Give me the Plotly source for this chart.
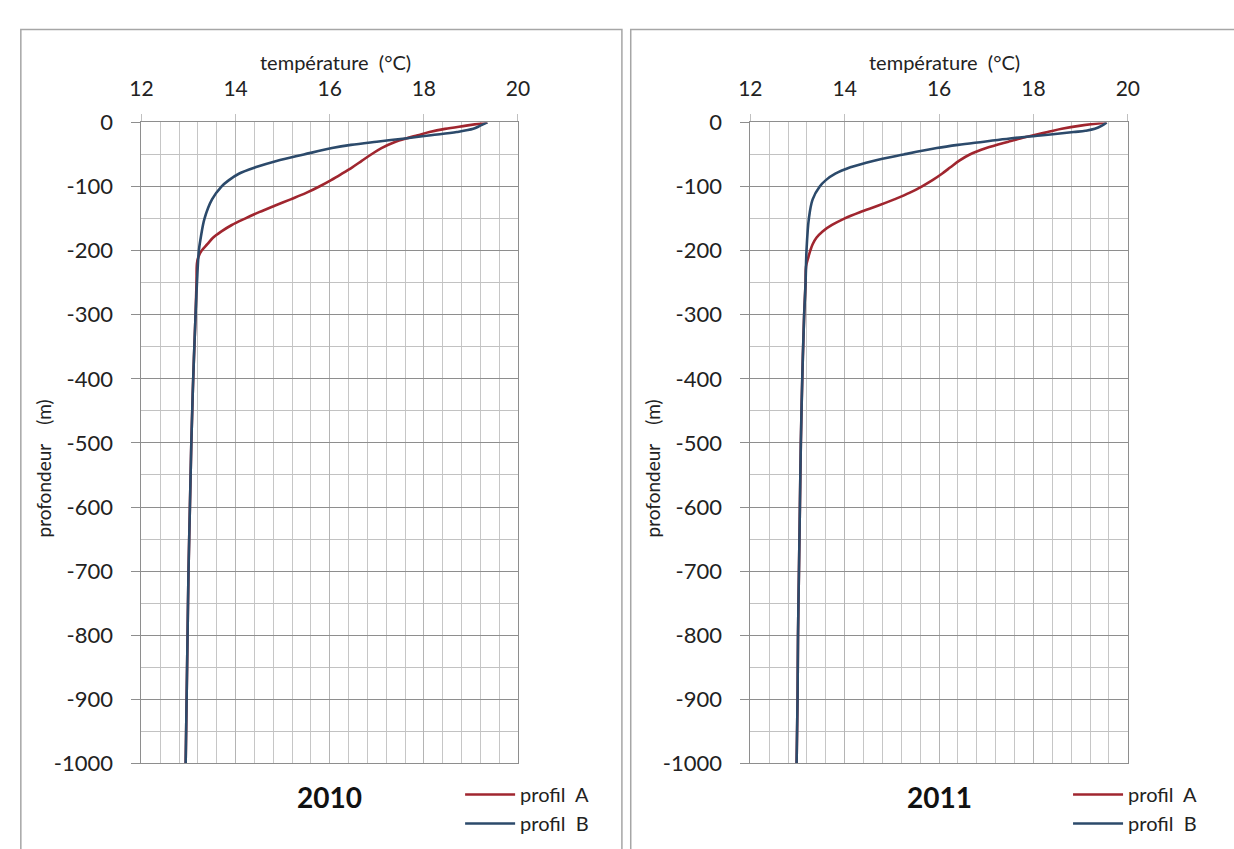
import plotly.graph_objects as go

# ---------------- data ----------------
depth_A_2010 = [0, -5, -10, -15, -20, -25, -30, -40, -50, -60, -70, -80, -90, -100, -110, -120, -130, -140,
                -150, -160, -170, -180, -190, -200, -210, -220, -250, -300, -400, -500, -600, -700, -800, -900, -1000]
temp_A_2010 = [19.35, 18.9, 18.45, 18.12, 17.87, 17.62, 17.4, 17.1, 16.88, 16.68, 16.48, 16.26, 16.03, 15.78, 15.5,
               15.17, 14.83, 14.5, 14.2, 13.92, 13.7, 13.52, 13.4, 13.28, 13.21, 13.18, 13.17, 13.15, 13.1, 13.06,
               13.03, 13.0, 12.98, 12.96, 12.94]

depth_B_2010 = [0, -5, -10, -15, -20, -25, -30, -35, -40, -50, -60, -70, -80, -90, -100, -120, -150, -180, -200,
                -250, -300, -400, -500, -600, -700, -800, -900, -1000]
temp_B_2010 = [19.35, 19.2, 19.05, 18.7, 18.15, 17.6, 17.0, 16.45, 16.05, 15.45, 14.87, 14.42, 14.07, 13.86, 13.7,
               13.5, 13.34, 13.26, 13.22, 13.18, 13.15, 13.1, 13.06, 13.03, 13.0, 12.98, 12.96, 12.94]

depth_A_2011 = [0, -5, -10, -15, -20, -25, -30, -40, -50, -60, -70, -80, -90, -100, -110, -120, -130, -140,
                -150, -160, -170, -180, -190, -200, -210, -225, -250, -300, -400, -500, -600, -700, -800, -900, -1000]
temp_A_2011 = [19.55, 19.0, 18.6, 18.3, 18.0, 17.72, 17.47, 17.0, 16.65, 16.42, 16.24, 16.06, 15.86, 15.63, 15.37,
               15.05, 14.7, 14.32, 13.99, 13.73, 13.53, 13.4, 13.32, 13.27, 13.23, 13.18, 13.17, 13.14, 13.1, 13.07,
               13.05, 13.03, 13.01, 13.0, 12.98]

depth_B_2011 = [0, -5, -10, -13, -15, -20, -25, -30, -35, -40, -50, -60, -70, -80, -90, -100, -120, -150, -200,
                -250, -300, -400, -500, -600, -700, -800, -900, -1000]
temp_B_2011 = [19.55, 19.45, 19.3, 19.1, 18.85, 18.2, 17.5, 16.95, 16.4, 15.95, 15.25, 14.6, 14.12, 13.8, 13.6,
               13.47, 13.32, 13.24, 13.19, 13.17, 13.14, 13.1, 13.07, 13.05, 13.03, 13.01, 13.0, 12.98]

temp_ticks = [12, 14, 16, 18, 20]
depth_ticks = [0, -100, -200, -300, -400, -500, -600, -700, -800, -900, -1000]
depth_tick_labels = [str(v) for v in depth_ticks]

series_names = ["profil\u00a0\u00a0A", "profil\u00a0\u00a0B"]
year_labels = ["2010", "2011"]
x_title = "température\u00a0\u00a0(°C)"
y_title = "profondeur\u00a0\u00a0\u00a0\u00a0(m)"

# ---------------- style ----------------
W, H = 1234, 849
RED = "#A0262F"
BLUE = "#2C4A6B"
FONT = "Lato"
TXT = "#222222"


def px(x):
    return x / W


def py(y):
    return 1 - y / H


fig = go.Figure()

panels = [
    dict(xa="x", ya="y", leg="legend", data=[(depth_A_2010, temp_A_2010), (depth_B_2010, temp_B_2010)]),
    dict(xa="x2", ya="y2", leg="legend2", data=[(depth_A_2011, temp_A_2011), (depth_B_2011, temp_B_2011)]),
]
colors = [RED, BLUE]
for p in panels:
    for i, (d, t) in enumerate(p["data"]):
        fig.add_trace(go.Scatter(
            x=t, y=d, mode="lines", name=series_names[i],
            line=dict(color=colors[i], width=2.6, shape="spline", smoothing=1.0),
            xaxis=p["xa"], yaxis=p["ya"], legend=p["leg"], legendgroup=series_names[i],
            hoverinfo="skip",
        ))

plot_left = [132, 753]
plot_right = [516, 1138]
plot_top, plot_bottom = 112, 774


def xaxis_cfg(k):
    return dict(
        domain=[px(plot_left[k]), px(plot_right[k])], range=[12, 20], side="top",
        tickmode="array", tickvals=temp_ticks, ticktext=[str(v) for v in temp_ticks],
        showgrid=True, gridcolor="#b4b4b4", gridwidth=1,
        minor=dict(tick0=12, dtick=0.4, showgrid=True, gridcolor="#c6c6c6", gridwidth=1),
        ticks="outside", ticklen=7, tickcolor="#c0c0c0",
        showline=True, linecolor="#8e8e8e", linewidth=1, mirror=True,
        zeroline=False, tickfont=dict(family=FONT, size=21, color=TXT),
        ticklabelstandoff=10, fixedrange=True,
    )


def yaxis_cfg(k):
    return dict(
        domain=[py(plot_bottom), py(plot_top)], range=[-1000, 0],
        tickmode="array", tickvals=depth_ticks, ticktext=depth_tick_labels,
        showgrid=True, gridcolor="#8e8e8e", gridwidth=1,
        minor=dict(tick0=0, dtick=50, showgrid=True, gridcolor="#c2c2c2", gridwidth=1),
        ticks="outside", ticklen=9, tickcolor="#8e8e8e",
        showline=True, linecolor="#8e8e8e", linewidth=1, mirror=True,
        zeroline=False, tickfont=dict(family=FONT, size=22, color=TXT),
        ticklabelstandoff=14, fixedrange=True,
    )


annotations = []
for k in range(2):
    cx = (plot_left[k] + plot_right[k]) / 2
    annotations.append(dict(text=x_title, x=px(cx + 6), y=py(50), xref="paper", yref="paper",
                            xanchor="center", yanchor="middle",
                            showarrow=False, font=dict(family=FONT, size=20, color=TXT)))
    annotations.append(dict(text=y_title, x=px(plot_left[k] - 100), y=py(469), xref="paper", yref="paper",
                            xanchor="center", yanchor="middle",
                            showarrow=False, textangle=-90, font=dict(family=FONT, size=19, color=TXT)))
    annotations.append(dict(text="<b>%s</b>" % year_labels[k], x=px(cx), y=py(809), xref="paper",
                            yref="paper", xanchor="center", yanchor="middle",
                            showarrow=False, font=dict(family=FONT, size=28, color="#111111")))

shapes = [
    dict(type="rect", xref="paper", yref="paper", x0=px(9), x1=px(622), y0=py(870), y1=py(16),
         line=dict(color="#a6a6a6", width=1.5)),
    dict(type="rect", xref="paper", yref="paper", x0=px(631), x1=px(1250), y0=py(870), y1=py(16),
         line=dict(color="#a6a6a6", width=1.5)),
]


def legend_cfg(xpix):
    return dict(x=px(xpix), y=py(786), xanchor="left", yanchor="top",
                font=dict(family=FONT, size=20, color=TXT), itemwidth=50,
                bgcolor="rgba(0,0,0,0)", borderwidth=0, tracegroupgap=11,
                traceorder="normal")


fig.update_layout(
    width=W, height=H, margin=dict(l=0, r=0, t=0, b=0),
    paper_bgcolor="white", plot_bgcolor="white",
    xaxis=dict(anchor="y", **xaxis_cfg(0)),
    yaxis=dict(anchor="x", **yaxis_cfg(0)),
    xaxis2=dict(anchor="y2", **xaxis_cfg(1)),
    yaxis2=dict(anchor="x2", **yaxis_cfg(1)),
    legend=legend_cfg(457),
    legend2=legend_cfg(1077),
    showlegend=True,
    annotations=annotations,
    shapes=shapes,
)

fig.write_html("out.html")
